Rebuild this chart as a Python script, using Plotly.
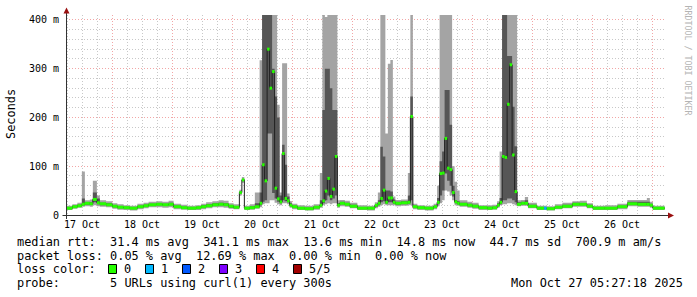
import pandas as pd
import plotly.graph_objects as go

# ---------------- data ----------------
BASE = "2025-10-17 00:00:00"          # hours below are counted from here
GRAPH_END = "2025-10-27 05:27:18"
DATA_END_HOURS = 244.9

# step start (hours since 17 Oct 00:00)
HOURS = [5.0, 8.0, 10.0, 11.8, 13.0, 15.0, 16.2, 17.8, 19.0, 21.5,
         24.0, 26.0, 28.5, 31.0, 34.0, 36.5, 38.5, 41.5, 44.0, 46.5,
         48.5, 51.5, 54.0, 57.5, 59.5, 61.5, 64.0, 66.5, 68.5, 70.5,
         72.5, 74.8, 75.8, 76.8, 79.0, 81.0, 82.9, 83.9, 84.9, 85.9,
         86.9, 87.9, 88.9, 89.9, 90.9, 91.9, 92.9, 93.9, 94.9, 95.9,
         98.0, 101.0, 104.5, 107.0, 108.0, 109.0, 110.0, 111.0, 112.0, 113.0,
         114.0, 115.0, 117.0, 119.0, 122.0, 126.0, 129.0, 130.2, 131.2, 132.2,
         133.2, 134.2, 135.2, 136.2, 137.2, 139.5, 142.2, 143.2, 144.2, 146.0,
         149.0, 152.5, 153.9, 154.9, 155.9, 156.9, 157.9, 158.9, 159.9, 160.9,
         161.9, 162.9, 166.0, 168.0, 170.5, 174.0, 176.0, 177.9, 178.9, 179.9,
         180.9, 181.9, 182.9, 183.9, 184.9, 185.9, 187.5, 189.0, 190.3, 193.8,
         196.7, 197.7, 201.0, 204.0, 208.0, 211.0, 213.8, 216.2, 221.0, 226.0,
         230.0, 234.0, 237.8, 239.0, 240.2]

# sorted ping values per step (ms): lowest, 2nd, median, 4th, highest
P1 = [10, 13, 15, 17, 18, 17, 20, 18, 17, 16,
      13, 11, 10, 9, 12, 14, 16, 16, 15, 16,
      12, 11, 10, 10, 12, 14, 16, 16, 15, 13,
      12, 40, 66, 10, 11, 13, 16, 22, 24, 24,
      30, 30, 25, 22, 20, 24, 24, 22, 15, 12,
      10, 9, 11, 15, 20, 22, 24, 22, 24, 24,
      15, 18, 17, 14, 10, 9, 14, 17, 20, 22,
      20, 20, 20, 20, 18, 19, 20, 20, 12, 10,
      9, 12, 18, 24, 30, 50, 48, 40, 30, 20,
      19, 17, 15, 13, 10, 10, 11, 15, 20, 22,
      22, 24, 24, 22, 20, 18, 19, 19, 14, 10,
      10, 9, 12, 14, 17, 17, 14, 10, 10, 12,
      18, 17, 17, 15, 10]
P2 = [12, 15, 17, 20, 21, 21, 26, 22, 20, 19,
      16, 14, 13, 12, 15, 17, 19, 20, 19, 20,
      15, 13, 12, 13, 15, 17, 19, 20, 19, 15,
      14, 44, 70, 12, 13, 15, 20, 27, 30, 167,
      167, 45, 34, 27, 24, 30, 28, 26, 18, 15,
      12, 11, 14, 18, 24, 30, 40, 30, 34, 40,
      18, 22, 20, 16, 12, 12, 17, 20, 26, 28,
      23, 26, 26, 23, 21, 22, 23, 30, 15, 13,
      12, 15, 22, 40, 50, 85, 70, 60, 38, 24,
      22, 20, 18, 16, 13, 12, 13, 18, 22, 30,
      30, 34, 34, 30, 26, 20, 22, 22, 16, 12,
      12, 11, 14, 16, 20, 20, 16, 12, 12, 15,
      21, 20, 20, 18, 12]
MEDIAN = [14, 17, 19, 22, 24, 23, 32, 25, 23, 21,
          18, 16, 15, 14, 17, 19, 21, 22, 21, 22,
          17, 15, 14, 15, 17, 19, 21, 22, 21, 18,
          16, 46, 72, 14, 15, 17, 24, 103, 70, 340,
          260, 294, 55, 33, 27, 126, 34, 29, 20, 17,
          14, 13, 16, 20, 29, 49, 75, 38, 53, 120,
          20, 24, 22, 18, 14, 14, 20, 24, 34, 51,
          26, 35, 35, 26, 24, 25, 26, 202, 17, 15,
          14, 17, 26, 85, 86, 157, 96, 93, 46, 27,
          24, 22, 20, 18, 15, 14, 15, 20, 26, 120,
          118, 227, 308, 123, 48, 22, 24, 24, 18, 14,
          14, 13, 16, 18, 22, 22, 18, 14, 14, 17,
          23, 22, 22, 20, 14]
P4 = [16, 19, 21, 34, 26, 26, 46, 34, 25, 24,
      20, 18, 17, 16, 19, 21, 23, 24, 23, 25,
      19, 17, 16, 17, 20, 22, 24, 25, 24, 20,
      18, 48, 74, 16, 18, 24, 46, 410, 410, 410,
      410, 300, 243, 200, 40, 144, 103, 38, 24, 19,
      16, 15, 18, 30, 215, 300, 300, 260, 215, 215,
      24, 27, 25, 21, 16, 16, 22, 30, 140, 120,
      50, 50, 48, 32, 27, 28, 40, 243, 19, 17,
      16, 19, 35, 110, 130, 256, 256, 185, 60, 30,
      28, 25, 23, 21, 17, 17, 17, 24, 35, 410,
      410, 326, 326, 222, 141, 26, 27, 30, 21, 16,
      16, 15, 18, 21, 25, 24, 21, 16, 16, 19,
      27, 27, 27, 23, 16]
P5 = [19, 22, 25, 89, 30, 32, 70, 40, 30, 28,
      24, 22, 20, 19, 23, 25, 27, 28, 27, 29,
      23, 21, 19, 20, 23, 26, 28, 30, 29, 24,
      22, 52, 78, 19, 22, 46, 317, 410, 410, 410,
      410, 410, 410, 226, 46, 311, 311, 44, 28, 23,
      20, 19, 22, 86, 410, 406, 410, 410, 410, 410,
      30, 31, 29, 25, 20, 19, 26, 46, 410, 410,
      167, 310, 318, 38, 31, 32, 86, 410, 23, 20,
      19, 23, 60, 410, 410, 410, 410, 410, 100, 68,
      50, 30, 27, 25, 20, 20, 21, 28, 130, 410,
      410, 410, 410, 410, 410, 30, 31, 37, 25, 19,
      19, 18, 22, 25, 28, 29, 24, 19, 20, 23,
      31, 31, 35, 27, 19]
# number of lost pings per step
LOSS = [0] * 110 + [1] + [0] * 14

assert len(HOURS) == len(P1) == len(P2) == len(MEDIAN) == len(P4) == len(P5) == len(LOSS)

Y_TICKS = [0, 100, 200, 300, 400]
Y_TICK_TEXT = ["0", "100 m", "200 m", "300 m", "400 m"]
DAY_DATES = ["2025-10-17", "2025-10-18", "2025-10-19", "2025-10-20", "2025-10-21",
             "2025-10-22", "2025-10-23", "2025-10-24", "2025-10-25", "2025-10-26"]
DAY_LABELS = ["17 Oct", "18 Oct", "19 Oct", "20 Oct", "21 Oct",
              "22 Oct", "23 Oct", "24 Oct", "25 Oct", "26 Oct"]

LEGEND_RTT = "median rtt:  31.4 ms avg  341.1 ms max  13.6 ms min  14.8 ms now  44.7 ms sd  700.9 m am/s"
LEGEND_LOSS = "packet loss: 0.05 % avg  12.69 % max  0.00 % min  0.00 % now"
LEGEND_COLOR = "loss color:"
LEGEND_PROBE = "probe:       5 URLs using curl(1) every 300s"
TIMESTAMP = "Mon Oct 27 05:27:18 2025"
LOSS_LEVELS = ["0", "1", "2", "3", "4", "5/5"]
LOSS_COLORS = ["#26ff00", "#00b8ff", "#0059ff", "#7e00ff", "#ff0000", "#a10000"]

# ---------------- styling helpers ----------------
W, H = 697, 297
PL, PR, PT, PB = 66, 666, 15, 215
MONO = "DejaVu Sans Mono"
LIGHT = "#a4a4a4"
DARK = "#565656"
GRID = "#c8c8c8"
MGRID = "#f2a6a6"
ARROW = "#9a1010"


def px(x):
    return (x - PL) / (PR - PL)


def py(y):
    return (PB - y) / (PB - PT)


base = pd.Timestamp(BASE)
t = [base + pd.Timedelta(hours=h) for h in HOURS] + [base + pd.Timedelta(hours=DATA_END_HOURS)]


def ext(a):
    return list(a) + [a[-1]]


fig = go.Figure()

def band(lo, hi, color):
    fig.add_trace(go.Scatter(x=t, y=ext(lo), mode="lines", line=dict(width=0, shape="hv"),
                             hoverinfo="skip", showlegend=False))
    fig.add_trace(go.Scatter(x=t, y=ext(hi), mode="lines", line=dict(width=0, shape="hv"),
                             fill="tonexty", fillcolor=color, hoverinfo="skip", showlegend=False))

band(P1, P5, LIGHT)
band(P2, P4, DARK)

fig.add_trace(go.Scatter(x=t, y=ext(MEDIAN), mode="lines",
                         line=dict(color="#202020", width=1, shape="hv"),
                         hoverinfo="skip", showlegend=False))

for lvl, col in enumerate(LOSS_COLORS):
    xs, ys = [], []
    for i, l in enumerate(LOSS):
        if l == lvl:
            xs += [t[i], t[i + 1], None]
            ys += [MEDIAN[i], MEDIAN[i], None]
    if xs:
        fig.add_trace(go.Scatter(x=xs, y=ys, mode="lines", line=dict(color=col, width=3),
                                 hoverinfo="skip", showlegend=False))

end = pd.Timestamp(GRAPH_END)
start = end - pd.Timedelta(days=10)
midnights = [pd.Timestamp(d) + pd.Timedelta(days=1) for d in DAY_DATES]

dotted = "1px,2px"
fig.update_layout(
    width=W, height=H, autosize=False,
    margin=dict(l=PL, r=W - PR, t=PT, b=H - PB, pad=0),
    paper_bgcolor="white", plot_bgcolor="white",
    showlegend=False,
    font=dict(family=MONO, size=10, color="#000000"),
    xaxis=dict(type="date", range=[start, end], tickmode="array", tickvals=midnights,
               showticklabels=False, ticks="", showgrid=True, gridcolor=MGRID,
               griddash=dotted, gridwidth=1, zeroline=False, showline=False,
               minor=dict(dtick=6 * 3600 * 1000, tick0="2025-10-17", showgrid=True,
                          gridcolor=GRID, griddash=dotted, gridwidth=1, ticks=""),
               fixedrange=True),
    yaxis=dict(range=[0, 410], tickmode="array", tickvals=Y_TICKS, ticktext=Y_TICK_TEXT,
               ticks="", ticklabelstandoff=6, showgrid=True, gridcolor=MGRID,
               griddash=dotted, gridwidth=1, zeroline=False, showline=False,
               tickfont=dict(family=MONO, size=10, color="#000000"),
               minor=dict(dtick=20, tick0=0, showgrid=True, gridcolor=GRID,
                          griddash=dotted, gridwidth=1, ticks=""),
               fixedrange=True),
)

shapes = []
# axes
shapes.append(dict(type="line", xref="paper", yref="paper", x0=px(62.5), x1=px(669),
                   y0=py(215.5), y1=py(215.5), line=dict(color="#333333", width=1)))
shapes.append(dict(type="line", xref="paper", yref="paper", x0=px(66.5), x1=px(66.5),
                   y0=py(219), y1=py(12), line=dict(color="#333333", width=1)))
# arrows
shapes.append(dict(type="path", xref="paper", yref="paper",
                   path=f"M {px(63.5)},{py(13.5)} L {px(69.5)},{py(13.5)} L {px(66.5)},{py(7.5)} Z",
                   fillcolor=ARROW, line=dict(width=0)))
shapes.append(dict(type="path", xref="paper", yref="paper",
                   path=f"M {px(668)},{py(212.5)} L {px(668)},{py(218.5)} L {px(674)},{py(215.5)} Z",
                   fillcolor=ARROW, line=dict(width=0)))
# loss colour boxes
for k, col in enumerate(LOSS_COLORS):
    x0 = 108.5 + 37 * k
    shapes.append(dict(type="rect", xref="paper", yref="paper",
                       x0=px(x0), x1=px(x0 + 8), y0=py(264.5), y1=py(273.5),
                       fillcolor=col, line=dict(color="#000000", width=1)))
fig.update_layout(shapes=shapes)

ann = []
for d, lab in zip(DAY_DATES, DAY_LABELS):
    ann.append(dict(x=pd.Timestamp(d) + pd.Timedelta(hours=12), y=py(224.8), xref="x", yref="paper",
                    text=lab, showarrow=False, xanchor="center", yanchor="middle",
                    font=dict(family=MONO, size=10, color="#000000")))

LEG_FONT = dict(family=MONO, size=11.9, color="#000000")
for txt, yy in [(LEGEND_RTT, 241.5), (LEGEND_LOSS, 255.5), (LEGEND_COLOR, 269.3), (LEGEND_PROBE, 283.3)]:
    ann.append(dict(x=px(14.5), y=py(yy), xref="paper", yref="paper", text=txt.replace(" ", "&nbsp;"),
                    showarrow=False, xanchor="left", yanchor="middle", font=LEG_FONT))
for k, lab in enumerate(LOSS_LEVELS):
    ann.append(dict(x=px(121.8 + 37 * k), y=py(269.3), xref="paper", yref="paper", text=lab,
                    showarrow=False, xanchor="left", yanchor="middle", font=LEG_FONT))
ann.append(dict(x=px(685), y=py(283.3), xref="paper", yref="paper", text=TIMESTAMP,
                showarrow=False, xanchor="right", yanchor="middle", font=LEG_FONT))
ann.append(dict(x=px(11), y=py(114), xref="paper", yref="paper", text="Seconds", textangle=-90,
                showarrow=False, xanchor="center", yanchor="middle", font=LEG_FONT))
ann.append(dict(x=px(687.5), y=py(60), xref="paper", yref="paper", text="RRDTOOL / TOBI OETIKER",
                textangle=90, showarrow=False, xanchor="center", yanchor="middle",
                font=dict(family=MONO, size=8.3, color="#b4b4b4")))
fig.update_layout(annotations=ann)

fig.write_html("out.html", config={"displayModeBar": False, "staticPlot": True})
